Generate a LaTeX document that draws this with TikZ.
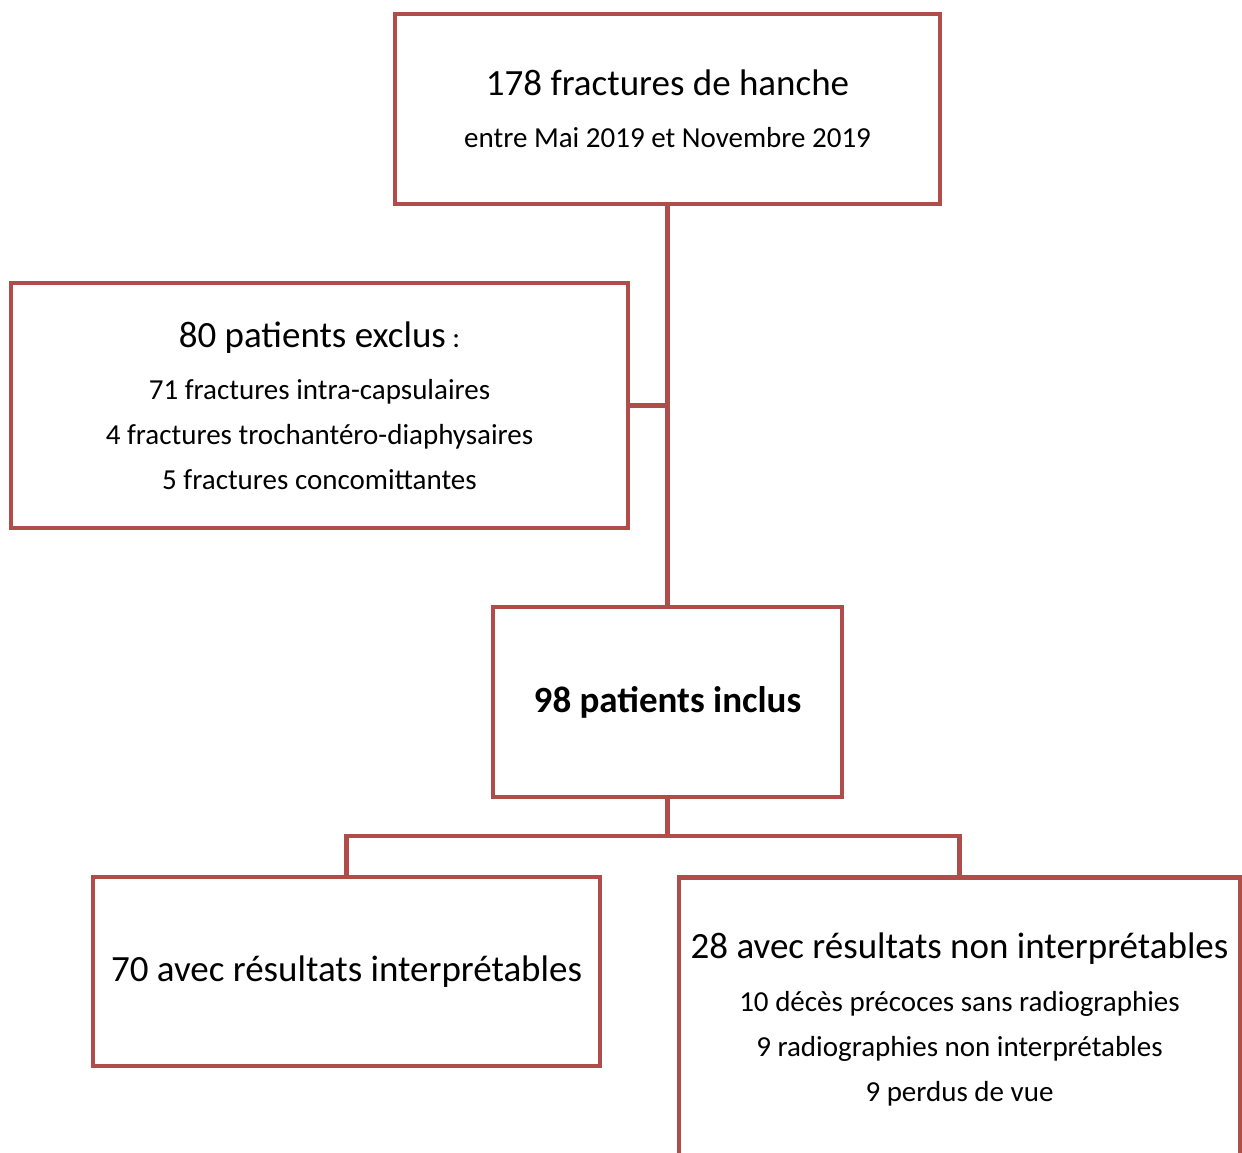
\documentclass[tikz,border=0pt]{standalone}
\usepackage{fontspec}
\setmainfont{Carlito}
\definecolor{boxred}{RGB}{176,76,74}
\tikzset{
  flowbox/.style={draw=boxred, line width=4.5pt, rectangle, inner sep=0pt,
    align=center, font={\fontsize{29}{45}\selectfont}},
  link/.style={draw=boxred, line width=4.5pt}
}
\newcommand{\headline}[1]{{\fontsize{37}{45}\selectfont #1}}

\begin{document}
\begin{tikzpicture}[x=1pt,y=-1pt]
    \clip (0,0) rectangle (1242,1153);
    % boxes
    \node[flowbox, minimum width=545, minimum height=190] (total) at (667.5,109)
      {\headline{178 fractures de hanche}\\[7pt] entre Mai 2019 et Novembre 2019};
    \node[flowbox, minimum width=617, minimum height=245] (excl) at (319.5,405.5)
      {\headline{80 patients exclus} :\\[7pt]
       71 fractures intra-capsulaires\\
       4 fractures trochantéro-diaphysaires\\
       5 fractures concomittantes};
    \node[flowbox, minimum width=349, minimum height=190] (incl) at (667.5,702)
      {\headline{\bfseries 98 patients inclus}};
    \node[flowbox, minimum width=507, minimum height=189] (ok) at (346.5,971.5)
      {\headline{70 avec résultats interprétables}};
    \node[flowbox, minimum width=561, minimum height=284] (nok) at (959.5,1019.5)
      {\headline{28 avec résultats non interprétables}\\[8pt]
       10 décès précoces sans radiographies\\
       9 radiographies non interprétables\\
       9 perdus de vue};
    %
    \coordinate (split) at (667.5,836);
    \draw[link] (total.south) -- (incl.north);
    \draw[link] (excl.east) -- (excl.east -| total.south);
    \draw[link] (incl.south) -- (split);
    \draw[link] (ok.north) |- (split) -| (nok.north);
\end{tikzpicture}
\end{document}
